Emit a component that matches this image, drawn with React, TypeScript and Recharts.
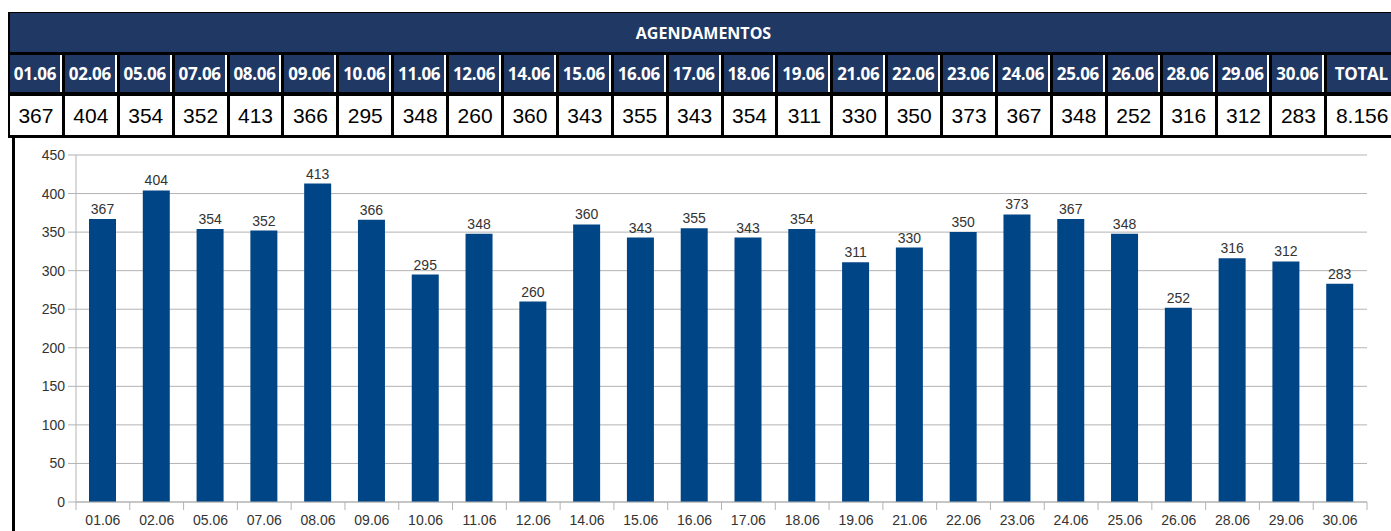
import React from "react";
import {
  BarChart,
  Bar,
  XAxis,
  YAxis,
  CartesianGrid,
  LabelList,
} from "recharts";

const days = [
  "01.06", "02.06", "05.06", "07.06", "08.06", "09.06", "10.06", "11.06",
  "12.06", "14.06", "15.06", "16.06", "17.06", "18.06", "19.06", "21.06",
  "22.06", "23.06", "24.06", "25.06", "26.06", "28.06", "29.06", "30.06",
];
const agendamentos = [
  367, 404, 354, 352, 413, 366, 295, 348, 260, 360, 343, 355, 343, 354, 311,
  330, 350, 373, 367, 348, 252, 316, 312, 283,
];
const totalLabel = "8.156";
const yTicks = [0, 50, 100, 150, 200, 250, 300, 350, 400, 450];

const data = days.map((d, i) => ({ d, v: agendamentos[i] }));

const NAVY = "#203864";
const BAR = "#004586";
const GRID = "#b3b3b3";
const TXT = "#333333";
const FONT = "'Liberation Sans', Arial, sans-serif";

const CHART_W = 1377;
const CHART_H = 393;
const M = { top: 17, right: 24, left: 0, bottom: 0 };
const Y_W = 62;
const BAND = (CHART_W - M.right - Y_W) / days.length;

// eslint-disable-next-line @typescript-eslint/no-explicit-any
function DayTick({ x, y, payload, index }: any) {
  const left = x - BAND / 2;
  return (
    <g>
      <line x1={left} x2={left} y1={y - 8} y2={y} stroke={GRID} />
      {index === days.length - 1 && (
        <line x1={left + BAND} x2={left + BAND} y1={y - 8} y2={y} stroke={GRID} />
      )}
      <text x={x} y={y + 15} textAnchor="middle" fill={TXT} fontSize={14} fontFamily={FONT}>
        {payload.value}
      </text>
    </g>
  );
}

function HeaderTable() {
  const cols = `repeat(${days.length}, 51.9px) 1fr`;
  return (
    <div
      style={{
        position: "absolute",
        left: 8,
        top: 12,
        width: 1392,
        background: "#000",
        padding: "1px 3px 3px 2px",
        boxSizing: "border-box",
      }}
    >
      <div
        style={{
          background: NAVY,
          height: 39,
          color: "#fff",
          fontFamily: "'Open Sans', sans-serif",
          fontWeight: 700,
          fontSize: 16,
          display: "flex",
          alignItems: "center",
          justifyContent: "center",
          marginBottom: 3,
        }}
      >
        AGENDAMENTOS
      </div>
      <div style={{ display: "grid", gridTemplateColumns: cols, columnGap: 3, marginBottom: 4 }}>
        {[...days, "TOTAL"].map((d) => (
          <div
            key={d}
            style={{
              background: NAVY,
              height: 37,
              color: "#fff",
              fontFamily: "'Open Sans', sans-serif",
              fontWeight: 700,
              fontSize: 17,
              letterSpacing: -0.3,
              display: "flex",
              alignItems: "center",
              justifyContent: "center",
              borderRight: "2px solid #fff",
              boxSizing: "border-box",
              whiteSpace: "nowrap",
              overflow: "hidden",
            }}
          >
            {d}
          </div>
        ))}
      </div>
      <div style={{ display: "grid", gridTemplateColumns: cols, columnGap: 3 }}>
        {[...agendamentos.map(String), totalLabel].map((v, i) => (
          <div
            key={i}
            style={{
              background: "#fff",
              height: 39,
              color: "#000",
              fontFamily: FONT,
              fontSize: 21,
              display: "flex",
              alignItems: "center",
              justifyContent: "center",
              whiteSpace: "nowrap",
            }}
          >
            {v}
          </div>
        ))}
      </div>
    </div>
  );
}

export default function App() {
  return (
    <div
      style={{
        position: "fixed",
        left: 0,
        top: 0,
        width: 1391,
        height: 531,
        overflow: "hidden",
        background: "#fff",
      }}
    >
      <HeaderTable />
      <div
        style={{
          position: "absolute",
          left: 12,
          top: 138,
          width: 1400,
          height: 400,
          borderLeft: "3px solid #000",
        }}
      />
      <div style={{ position: "absolute", left: 14, top: 138 }}>
        <BarChart width={CHART_W} height={CHART_H} data={data} margin={M}>
          <CartesianGrid stroke={GRID} vertical={false} />
          <XAxis
            dataKey="d"
            height={29}
            axisLine={{ stroke: GRID }}
            tickLine={false}
            tickSize={8}
            tickMargin={0}
            interval={0}
            tick={<DayTick />}
          />
          <YAxis
            width={Y_W}
            domain={[0, 450]}
            ticks={yTicks}
            interval={0}
            axisLine={{ stroke: GRID }}
            tickLine={{ stroke: GRID }}
            tickSize={8}
            tickMargin={3}
            tick={{ fill: TXT, fontSize: 14, fontFamily: FONT }}
          />
          <YAxis
            yAxisId="edge"
            orientation="right"
            width={0}
            tick={false}
            tickLine={false}
            axisLine={{ stroke: GRID }}
          />
          <Bar dataKey="v" fill={BAR} barSize={27} isAnimationActive={false}>
            <LabelList
              dataKey="v"
              position="top"
              offset={5}
              fill={TXT}
              fontSize={14}
              fontFamily={FONT}
            />
          </Bar>
        </BarChart>
      </div>
    </div>
  );
}
